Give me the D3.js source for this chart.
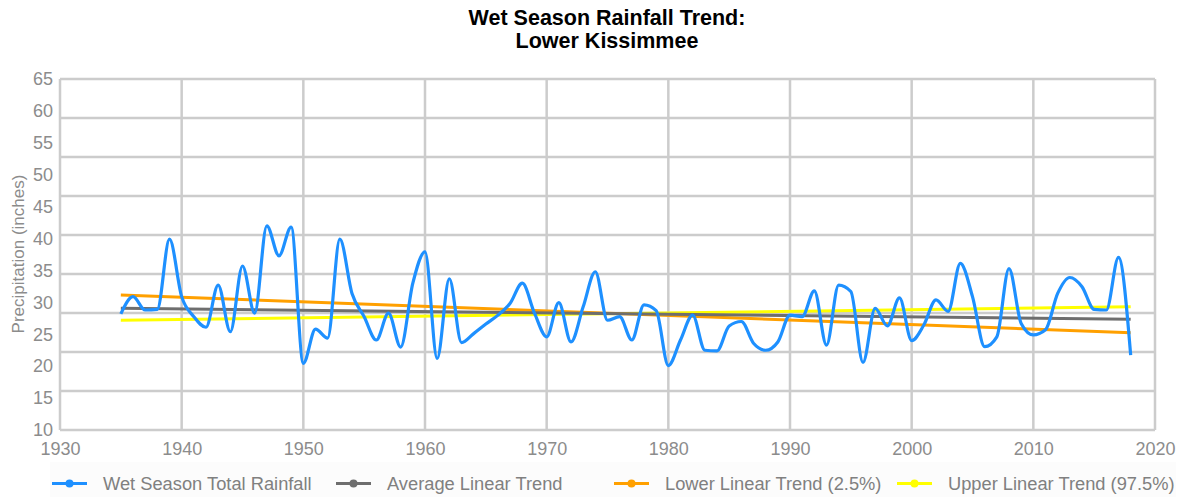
<!DOCTYPE html>
<html>
<head>
<meta charset="utf-8">
<script src="https://cdn.jsdelivr.net/npm/d3@7"></script>
<style>
  body { margin: 0; background: #fff; }
  svg { display: block; font-family: "Liberation Sans", Arial, sans-serif; }
</style>
</head>
<body>
<svg id="chart" width="1184" height="497"></svg>
<script>
const years = d3.range(1935, 2019);
const rainfall = [
  28.2, 30.9, 28.8, 28.9, 39.9, 30.9, 27.75, 26.1, 32.7, 25.4,
  35.7, 28.3, 42.0, 37.3, 41.8, 20.45, 25.8, 24.4, 39.9, 31.4,
  27.75, 24.1, 28.3, 23.0, 33.0, 37.9, 21.2, 33.7, 23.7, 25.1,
  26.6, 28.0, 29.85, 33.0, 28.3, 24.6, 29.95, 23.8, 29.3, 34.8,
  27.2, 27.75, 24.1, 29.6, 28.7, 20.1, 24.1, 28.0, 22.5, 22.4,
  26.3, 27.0, 23.6, 22.5, 23.8, 28.0, 27.75, 31.8, 23.3, 32.7,
  31.7, 20.6, 29.05, 26.3, 30.7, 24.0, 26.45, 30.4, 28.6, 36.1,
  30.9, 23.05, 24.6, 35.3, 26.7, 24.9, 25.7, 31.4, 33.9, 32.45,
  28.9, 28.8, 37.05, 21.75
];
const trendYears = [1935, 2018];
const averageTrend = [29.07, 27.35];
const lowerTrend = [31.15, 25.25];
const upperTrend = [27.2, 29.3];
const xTicks = d3.range(1930, 2021, 10);
const yTicks = d3.range(10, 66, 5);
const seriesNames = ["Wet Season Total Rainfall", "Average Linear Trend", "Lower Linear Trend (2.5%)", "Upper Linear Trend (97.5%)"];
const seriesColors = ["#1e90ff", "#6e6e6e", "#ffa000", "#ffff00"];

const svg = d3.select("#chart");
const pLeft = 60, pRight = 1155, pTop = 79, pBottom = 430;
const x = d3.scaleLinear().domain([1930, 2020]).range([pLeft, pRight]);
const y = d3.scaleLinear().domain([10, 65]).range([pBottom, pTop]);
const gridColor = "#cccccc";
const labelColor = "#8c8c8c";
const legendColor = "#808080";

// horizontal gridlines (10 evenly spaced lines)
const hGrid = d3.range(10).map(i => 10 + i * 55 / 9);
svg.append("g").selectAll("line").data(hGrid).join("line")
  .attr("x1", pLeft).attr("x2", pRight)
  .attr("y1", d => y(d)).attr("y2", d => y(d))
  .attr("stroke", gridColor).attr("stroke-width", 2.5);

// vertical gridlines
svg.append("g").selectAll("line").data(xTicks).join("line")
  .attr("x1", d => x(d)).attr("x2", d => x(d))
  .attr("y1", pTop).attr("y2", pBottom)
  .attr("stroke", gridColor).attr("stroke-width", 2.5);

// axes labels
const xAxis = d3.axisBottom(x).tickValues(xTicks).tickFormat(d3.format("d")).tickSize(0).tickPadding(12);
const gx = svg.append("g").attr("transform", `translate(0,${pBottom})`).call(xAxis);
gx.select(".domain").remove();
gx.selectAll("text").attr("fill", labelColor).attr("font-size", 18).attr("font-family", "Liberation Sans, Arial, sans-serif");

const yAxis = d3.axisLeft(y).tickValues(yTicks).tickSize(0).tickPadding(7);
const gy = svg.append("g").attr("transform", `translate(${pLeft},0)`).call(yAxis);
gy.select(".domain").remove();
gy.selectAll("text").attr("fill", labelColor).attr("font-size", 18).attr("font-family", "Liberation Sans, Arial, sans-serif");

svg.append("text")
  .attr("transform", `translate(24,254) rotate(-90)`)
  .attr("text-anchor", "middle")
  .attr("fill", labelColor).attr("font-size", 17)
  .text("Precipitation (inches)");

// title
svg.append("text").attr("x", 607).attr("y", 24.5).attr("text-anchor", "middle")
  .attr("font-weight", "bold").attr("font-size", 21.5).attr("fill", "#000")
  .text("Wet Season Rainfall Trend:");
svg.append("text").attr("x", 607).attr("y", 47.5).attr("text-anchor", "middle")
  .attr("font-weight", "bold").attr("font-size", 21.5).attr("fill", "#000")
  .text("Lower Kissimmee");

// lines
const plot = svg.append("g");
const line = d3.line().x(d => x(d[0])).y(d => y(d[1]));
const trends = [averageTrend, lowerTrend, upperTrend];
// draw order: upper (yellow), lower (orange), average (gray), then rainfall on top
[3, 2, 1].forEach(k => {
  const vals = trends[k - 1];
  plot.append("path")
    .datum(trendYears.map((yr, i) => [yr, vals[i]]))
    .attr("d", line).attr("fill", "none")
    .attr("stroke", seriesColors[k]).attr("stroke-width", 3);
});
plot.append("path")
  .datum(years.map((yr, i) => [yr, rainfall[i]]))
  .attr("d", line.curve(d3.curveMonotoneX))
  .attr("fill", "none").attr("stroke", seriesColors[0]).attr("stroke-width", 3.2)
  .attr("stroke-linejoin", "round");

// legend
svg.append("rect").attr("x", 50).attr("y", 462).attr("width", 1126).attr("height", 35).attr("fill", "#fcfcfc");
const legendX = [52, 336, 614, 897];
const lg = svg.append("g").selectAll("g").data(seriesNames).join("g")
  .attr("transform", (d, i) => `translate(${legendX[i]},483.5)`);
lg.append("line").attr("x1", 0).attr("x2", 35).attr("y1", 0).attr("y2", 0)
  .attr("stroke", (d, i) => seriesColors[i]).attr("stroke-width", 3);
lg.append("circle").attr("cx", 17.5).attr("cy", 0).attr("r", 4)
  .attr("fill", (d, i) => seriesColors[i]);
lg.append("text").attr("x", 51).attr("y", 6.5).attr("fill", legendColor)
  .attr("font-size", 18.3).text(d => d);
</script>
</body>
</html>
